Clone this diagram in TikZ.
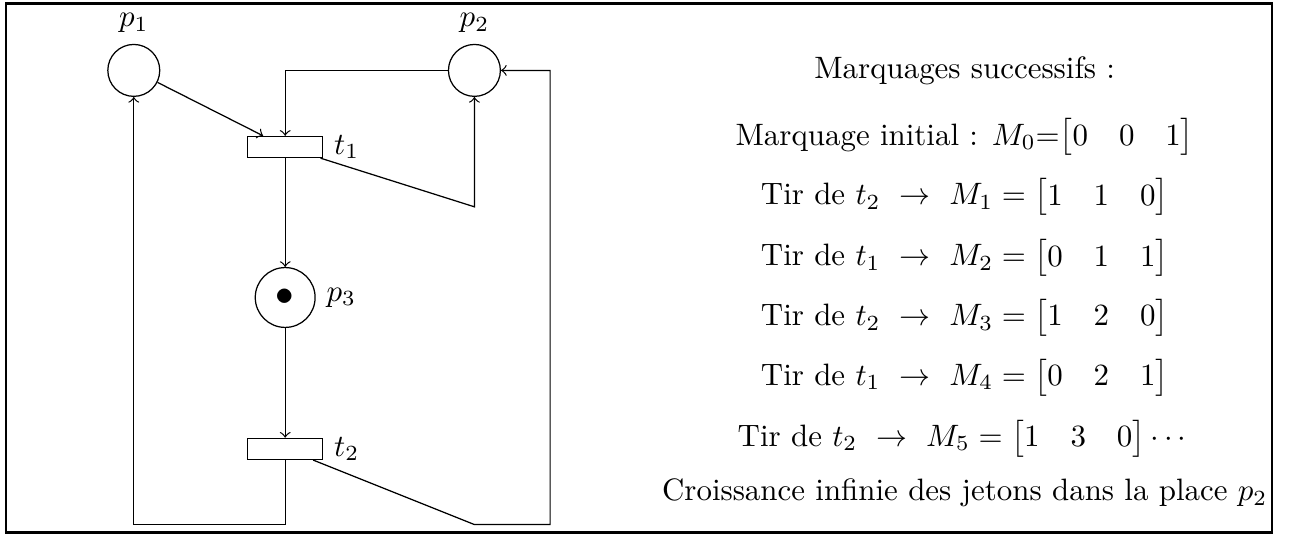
\documentclass[tikz,border=0pt]{standalone}
\usepackage{amsmath}
\renewcommand{\arraystretch}{1.1}

\begin{document}
\begin{tikzpicture}[>=to,
    place/.style={circle, draw, minimum size=0.59cm, inner sep=0pt},
    trans/.style={rectangle, draw, minimum width=0.85cm, minimum height=0.24cm, inner sep=0pt},
    marking/.style={inner sep=0pt}]
    % --- parameters ---
    \def\xR{6.25}   % right return line
    \def\yB{0.11}   % bottom return line
    \def\xT{10.96}  % centre of the markings column

    \useasboundingbox (0,0) rectangle (14.69,6.07);
    \draw[line width=0.7pt] (0.07,0.02) rectangle (14.45,6.03);

    % --- 1. places and transitions ---
    \node[place, label={above:$p_1$}] (p1) at (1.52,5.27) {};
    \node[place, label={above:$p_2$}] (p2) at (5.39,5.27) {};
    \node[trans, label={right:$t_1$}] (t1) at (3.24,4.40) {};
    \node[place, minimum size=0.68cm, label={right:$p_3$}] (p3) at (3.24,2.69) {\large$\bullet$};
    \node[trans, label={right:$t_2$}] (t2) at (3.24,0.97) {};

    % corners of the arcs
    \coordinate (c1) at (5.39,3.72);
    \coordinate (b1) at (1.52,\yB);
    \coordinate (b2) at (5.39,\yB);
    \coordinate (b3) at (\xR,\yB);
    \coordinate (r1) at (\xR,5.27);

    % --- 2. arcs ---
    \draw[->] (p1) -- (t1);
    \draw[->] (p2) -| (t1);
    \draw[->] (t1) -- (c1) -- (p2);
    \draw[->] (t1) -- (p3);
    \draw[->] (p3) -- (t2);
    \draw[->] (t2) |- (b1) -- (p1);
    \draw[->] (t2) -- (b2) -- (b3) -- (r1) -- (p2);

    % --- 3. successive markings ---
    \node[marking] (title) at (\xT,5.27) {Marquages successifs :};
    \node[marking] (m0) at (\xT,4.51) {Marquage initial : $M_0$=$\begin{bmatrix}0 & 0 & 1\end{bmatrix}$};
    \node[marking] (m1) at (\xT,3.83) {Tir de $t_2 \ \rightarrow\ M_1 = \begin{bmatrix}1 & 1 & 0\end{bmatrix}$};
    \node[marking] (m2) at (\xT,3.14) {Tir de $t_1 \ \rightarrow\ M_2 = \begin{bmatrix}0 & 1 & 1\end{bmatrix}$};
    \node[marking] (m3) at (\xT,2.46) {Tir de $t_2 \ \rightarrow\ M_3 = \begin{bmatrix}1 & 2 & 0\end{bmatrix}$};
    \node[marking] (m4) at (\xT,1.78) {Tir de $t_1 \ \rightarrow\ M_4 = \begin{bmatrix}0 & 2 & 1\end{bmatrix}$};
    \node[marking] (m5) at (\xT,1.09) {Tir de $t_2 \ \rightarrow\ M_5 = \begin{bmatrix}1 & 3 & 0\end{bmatrix}\cdots$};
    \node[marking] (note) at (\xT,0.47) {Croissance infinie des jetons dans la place $p_2$};

\end{tikzpicture}
\end{document}
